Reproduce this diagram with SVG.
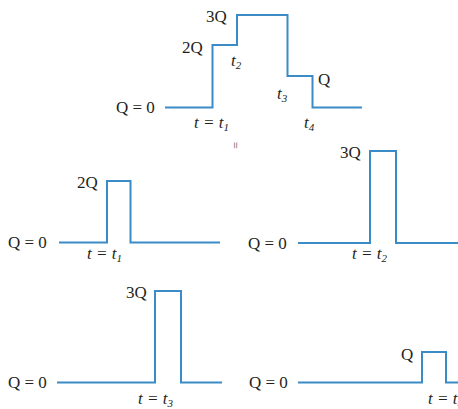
<svg xmlns="http://www.w3.org/2000/svg" width="458" height="409" viewBox="0 0 458 409">
<style>
.w{fill:none;stroke:#3b8bc6;stroke-width:2;stroke-linejoin:miter}
.t{font-family:'Liberation Serif','DejaVu Serif','Noto Serif',serif;font-size:17px;fill:#231f20}
.i{font-style:italic}
.s{font-size:11px;font-style:italic}
</style>
<rect width="458" height="409" fill="#ffffff"/>
<g id="connectors">
<path class="w" d="M165,107.5H212.5V45H237V15H287.5V76H312.5V107.5H362"/>
<path class="w" d="M59,242.5H107V181H130.5V242.5H220"/>
<path class="w" d="M298,243H370V151H396V243H458"/>
<path class="w" d="M57,382.5H155V291H181V382.5H222"/>
<path class="w" d="M298,382.5H422V352H446V382.5H458"/>
</g>
<g id="top" class="t" font-family="Liberation Serif, serif">
<text x="116" y="113">Q = 0</text>
<text x="182" y="53">2Q</text>
<text x="206" y="22">3Q</text>
<text x="318" y="85">Q</text>
<text class="i" x="194" y="128">t = t<tspan class="s" dy="3">1</tspan></text>
<text class="i" x="231" y="66">t<tspan class="s" dy="3">2</tspan></text>
<text class="i" x="277" y="99">t<tspan class="s" dy="3">3</tspan></text>
<text class="i" x="304" y="128">t<tspan class="s" dy="3">4</tspan></text>
<text x="227" y="146" style="font-size:12px;fill:#555" transform="rotate(90 231 146)">=</text>
</g>
<g id="panel1" class="t" font-family="Liberation Serif, serif">
<text x="8" y="248">Q = 0</text>
<text x="77" y="188">2Q</text>
<text class="i" x="87" y="259">t = t<tspan class="s" dy="3">1</tspan></text>
</g>
<g id="panel2" class="t" font-family="Liberation Serif, serif">
<text x="248" y="249">Q = 0</text>
<text x="340" y="158">3Q</text>
<text class="i" x="352" y="259">t = t<tspan class="s" dy="3">2</tspan></text>
</g>
<g id="panel3" class="t" font-family="Liberation Serif, serif">
<text x="8" y="388">Q = 0</text>
<text x="126" y="298">3Q</text>
<text class="i" x="138" y="404">t = t<tspan class="s" dy="3">3</tspan></text>
</g>
<g id="panel4" class="t" font-family="Liberation Serif, serif">
<text x="249" y="388">Q = 0</text>
<text x="401" y="360">Q</text>
<text class="i" x="428" y="404">t = t<tspan class="s" dy="3">4</tspan></text>
</g>
</svg>
